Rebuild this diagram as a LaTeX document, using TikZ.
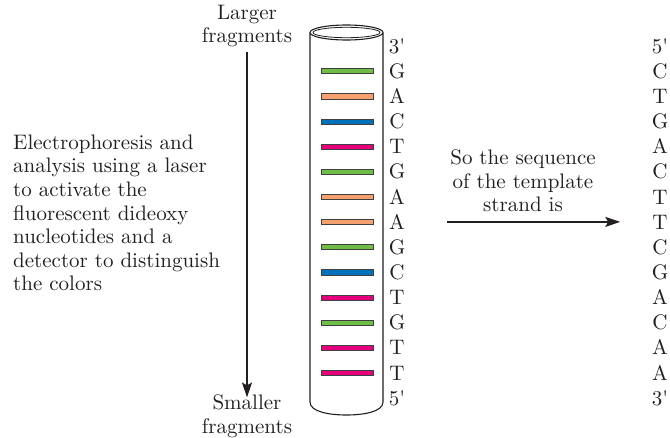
\documentclass[tikz,border=0pt]{standalone}
\usepackage{fontspec}
\setmainfont{lmroman10-regular}[Extension=.otf]
\usetikzlibrary{arrows.meta}
\definecolor{bandG}{RGB}{110,190,70}
\definecolor{bandA}{RGB}{245,160,110}
\definecolor{bandC}{RGB}{0,114,188}
\definecolor{bandT}{RGB}{230,0,126}
\definecolor{ink}{RGB}{35,31,32}
\tikzset{
  lbl/.style={font=\fontsize{21}{23.6}\selectfont, inner sep=0pt, text=ink},
  nt/.style={lbl, anchor=base},
  band/.style={draw=black!75, line width=0.5pt},
  tube/.style={draw=ink, line width=1.1pt},
  arr/.style={-{Stealth[length=15pt,width=10pt,inset=3pt]}, line width=1.3pt, draw=ink}
}
\begin{document}
\begin{tikzpicture}[x=1pt,y=-1pt]
\useasboundingbox (0,0) rectangle (670,437);

% gel capillary
\draw[tube] (310,32.5) -- (310,402)
  .. controls (310,412) and (330,415) .. (346.5,415)
  .. controls (363,415) and (383,412) .. (383,402) -- (383,32.5);
\draw[tube] (346.5,32.5) ellipse [x radius=36.5, y radius=7.5];
\draw[ink, line width=0.8pt] (346.5,32.5) ellipse [x radius=33.5, y radius=5.2];

% fluorescent bands, largest fragment at top
\foreach \c [count=\i from 1] in {G,A,C,T,G,A,A,G,C,T,G,T,T}
  \filldraw[band, fill=band\c] (321,{45.9+25.15*\i-2.6}) rectangle (373,{45.9+25.15*\i+2.6});

% bases read from the bands
\foreach \t [count=\i from 0] in {3\textquotesingle,G,A,C,T,G,A,A,G,C,T,G,T,T,5\textquotesingle}
  \node[nt] (l\i) at (397,{45.9+25.15*\i+7.2}) {\t};

% template strand
\foreach \t [count=\i from 0] in {5\textquotesingle,C,T,G,A,C,T,T,C,G,A,C,A,A,3\textquotesingle}
  \node[nt] (r\i) at (660,{45.9+25.15*\i+7.2}) {\t};

% migration direction
\node[lbl, align=center] (larger) at (247,26) {Larger\\fragments};
\node[lbl, align=center] (smaller) at (247,416) {Smaller\\fragments};
\path (larger.south) ++(0,5) coordinate (vtop);
\draw[arr] (vtop) -- ([yshift=-3pt]smaller.north);

% description of the method
\node[lbl, align=left, anchor=west] (method) at (13,213)
  {Electrophoresis and\\analysis using a laser\\to activate the\\fluorescent dideoxy\\nucleotides and a\\detector to distinguish\\the colors};

% reading the template strand
\node[lbl, align=center] (sotext) at (523,181) {So the sequence\\of the template\\strand is};
\coordinate (hstart) at (447,221.9);
\draw[arr, shorten >=32pt] (hstart) -- (r7.west |- hstart);
\end{tikzpicture}
\end{document}
